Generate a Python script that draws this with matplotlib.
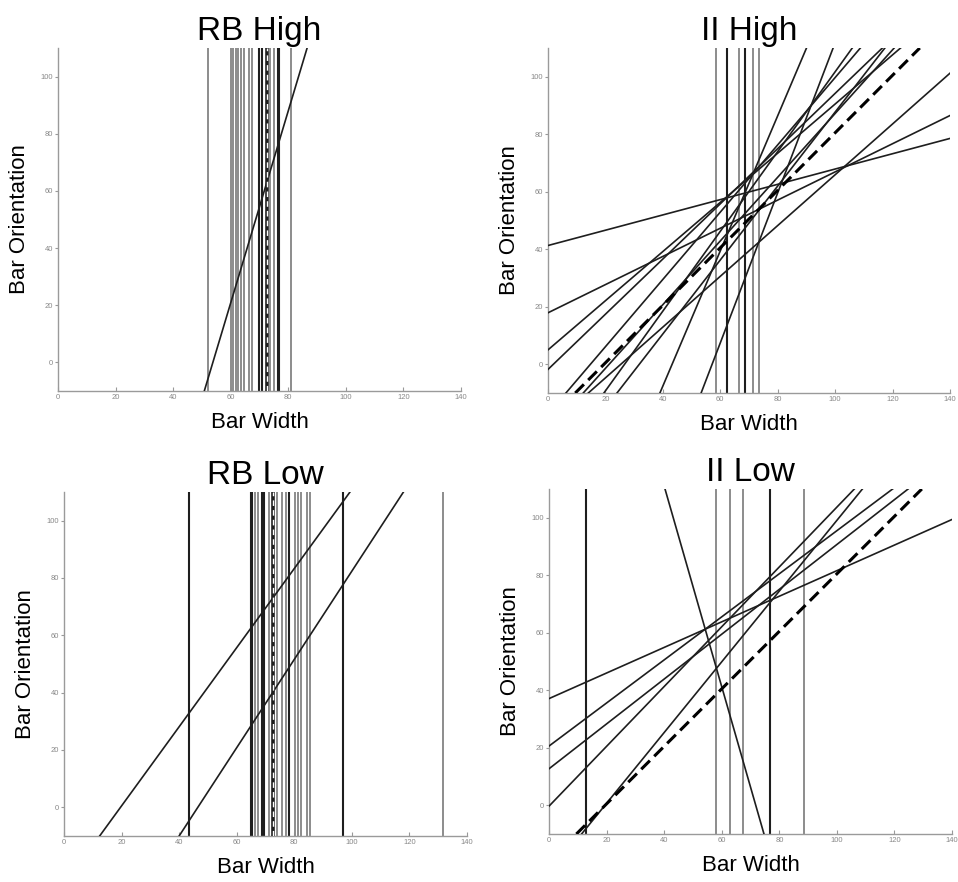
"""Decision bounds of observers, four conditions (RB / II, high / low)."""

import matplotlib

matplotlib.use("Agg")
import matplotlib.pyplot as plt

# %% Data: vertical bounds (bar width criterion) and linear bounds y = m*x + b
titles = ["RB High", "II High", "RB Low", "II Low"]

rb_high_vx = [52.0, 60.1, 60.9, 61.8, 62.7, 63.7, 64.7, 66.4, 67.5, 69.8, 70.8, 73.8, 75.0, 76.3, 76.8, 80.9]
rb_high_vdark = [0, 0, 0, 0, 0, 0, 0, 0, 0, 1, 1, 0, 0, 1, 1, 0]
rb_high_slope = [3.36]
rb_high_icpt = [-180.8]
rb_high_opt = 72.5

ii_high_vx = [58.4, 62.5, 66.6, 68.6, 71.5, 73.6]
ii_high_vdark = [0, 1, 0, 1, 0, 0]
ii_high_slope = [0.266, 0.49, 0.96, 2.61, 2.35, 1.17, 1.108, 1.387, 0.883, 1.286, 0.855]
ii_high_icpt = [41.3, 17.9, -1.8, -149.2, -101.6, -17.3, -23.6, -37.0, -22.4, -40.9, 5.0]
ii_high_opt_slope = 1.0
ii_high_opt_icpt = -19.5

rb_low_vx = [43.5, 64.8, 65.4, 66.5, 67.5, 68.7, 69.6, 71.1, 73.9, 75.9, 77.1, 78.0,
             80.1, 81.2, 82.3, 84.5, 85.5, 97.0, 131.8]
rb_low_vdark = [1, 1, 1, 0, 0, 1, 1, 0, 0, 0, 0, 1, 0, 0, 0, 0, 0, 1, 0]
rb_low_slope = [1.38, 1.54]
rb_low_icpt = [-27.1, -71.6]
rb_low_opt = 72.7

ii_low_vx = [12.8, 57.9, 62.9, 67.5, 76.8, 88.4]
ii_low_vdark = [1, 0, 0, 0, 1, 0]
ii_low_slope = [0.445, 0.749, 0.78, 1.04, 1.23, -3.49]
ii_low_icpt = [37.1, 20.6, 12.7, -0.3, -23.9, 250.6]
ii_low_opt_slope = 1.0
ii_low_opt_icpt = -19.5

x_ticks = [0, 20, 40, 60, 80, 100, 120, 140]
y_ticks = [0, 20, 40, 60, 80, 100]

gray = "#8c8c8c"
dark = "#1e1e1e"


def style_axes(ax, title):
    """Axis limits, ticks and labels shared by all panels."""
    ax.set_xlim(0, 140)
    ax.set_ylim(-10, 110)
    ax.set_xticks(x_ticks)
    ax.set_yticks(y_ticks)
    ax.tick_params(axis="x", direction="in", length=3, pad=2, labelsize=5.5,
                   colors="#999999", labelcolor="#888888")
    ax.tick_params(axis="y", direction="out", length=2, pad=1.5, labelsize=5.5,
                   colors="#999999", labelcolor="#888888")
    for side in ["top", "right"]:
        ax.spines[side].set_visible(False)
    for side in ["left", "bottom"]:
        ax.spines[side].set_color("#9a9a9a")
        ax.spines[side].set_linewidth(1.0)
    ax.set_title(title, fontsize=24, pad=6)
    ax.set_xlabel("Bar Width", fontsize=16)
    ax.set_ylabel("Bar Orientation", fontsize=16)
    ax.xaxis.set_label_coords(0.5, -0.06)
    ax.xaxis.label.set_va("top")
    ax.yaxis.set_label_coords(-0.07, 0.5)


def draw_panel(ax, vx, vdark, slopes, icpts):
    for x, d in zip(vx, vdark):
        ax.axvline(x, color=dark if d else gray, lw=1.5 if d else 1.4, zorder=2)
    for m, b in zip(slopes, icpts):
        ax.axline((0, b), slope=m, color=dark, lw=1.2, zorder=3)


def main() -> None:
    plt.rcParams["font.family"] = ["Liberation Sans", "DejaVu Sans"]
    fig = plt.figure(figsize=(9.58, 8.82), dpi=100)
    ax1 = fig.add_axes([0.0605, 0.5567, 0.4207, 0.3889])
    ax2 = fig.add_axes([0.5720, 0.5544, 0.4196, 0.3912])
    ax3 = fig.add_axes([0.0668, 0.0522, 0.4207, 0.3900])
    ax4 = fig.add_axes([0.5731, 0.0544, 0.4207, 0.3912])

    # RB High
    draw_panel(ax1, rb_high_vx, rb_high_vdark, rb_high_slope, rb_high_icpt)
    ax1.axvline(rb_high_opt, color=dark, lw=2.6, zorder=4)
    ax1.axvline(rb_high_opt, color="white", lw=1.0, ls=(0, (4, 3)), zorder=5)

    # II High
    draw_panel(ax2, ii_high_vx, ii_high_vdark, ii_high_slope, ii_high_icpt)
    ax2.axline((0, ii_high_opt_icpt), slope=ii_high_opt_slope, color="black",
               lw=2.2, ls=(0, (4, 2)), zorder=5)

    # RB Low
    draw_panel(ax3, rb_low_vx, rb_low_vdark, rb_low_slope, rb_low_icpt)
    ax3.axvline(rb_low_opt, color=dark, lw=2.6, zorder=4)
    ax3.axvline(rb_low_opt, color="white", lw=1.0, ls=(0, (4, 3)), zorder=5)

    # II Low
    draw_panel(ax4, ii_low_vx, ii_low_vdark, ii_low_slope, ii_low_icpt)
    ax4.axline((0, ii_low_opt_icpt), slope=ii_low_opt_slope, color="black",
               lw=2.2, ls=(0, (4, 2)), zorder=5)

    for ax, title in zip([ax1, ax2, ax3, ax4], titles):
        style_axes(ax, title)

    fig.savefig("out.png", dpi=100)


if __name__ == "__main__":
    main()
